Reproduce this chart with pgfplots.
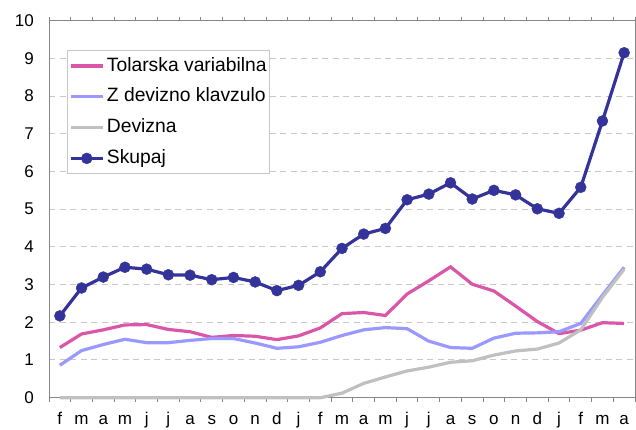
\documentclass[border=0pt]{standalone}
\usepackage{pgfplots}
\pgfplotsset{compat=1.18}
\usepackage{fontspec}
\setmainfont{Liberation Sans}
\definecolor{cpink}{RGB}{218,86,168}
\definecolor{cblue}{RGB}{153,153,255}
\definecolor{cgray}{RGB}{192,192,192}
\definecolor{cnavy}{RGB}{51,51,153}
\definecolor{caxis}{RGB}{134,134,134}
\definecolor{cgrid}{RGB}{200,200,200}
\begin{document}
\begin{tikzpicture}
\path[use as bounding box] (0,0) rectangle (636pt,430pt);
\begin{axis}[
  at={(49pt,32.3pt)}, anchor=south west,
  width=586pt, height=377pt, scale only axis,
  xmin=-0.5, xmax=26.5, ymin=0, ymax=10,
  clip=false,
  xtick={0,...,26},
  xticklabels={f,m,a,m,j,j,a,s,o,n,d,j,f,m,a,m,j,j,a,s,o,n,d,j,f,m,a},
  minor xtick={-0.5,0.5,...,26.5},
  ytick={0,...,10},
  tick align=outside,
  major tick length=0pt, minor tick length=4pt,
  minor tick style={caxis, line width=1pt},
  axis line style={caxis, line width=1pt},
  ymajorgrids,
  major grid style={cgrid, line width=1pt, dash pattern=on 6pt off 4.5pt},
  /pgf/number format/assume math mode=true,
  tick label style={font=\fontsize{17}{20}\selectfont},
  yticklabel style={anchor=east, inner sep=0pt, xshift=-15pt},
  xticklabel style={anchor=base, inner sep=0pt, yshift=-27.3pt},
  legend cell align=left,
  legend style={at={(0.0302,0.922)}, anchor=north west, draw=cgrid, line width=1pt, fill=white,
    inner xsep=2pt, inner ysep=5.4pt, row sep=10.8pt, column sep=1.5pt,
    font=\fontsize{19.3}{22}\selectfont,
    nodes={inner sep=1pt, text height=14pt, text depth=4pt}},
  legend image code/.code={\draw[mark repeat=2, mark phase=2, #1] plot coordinates {(0pt,0pt) (16pt,0pt) (32pt,0pt)};},
]
\addplot[cpink, line width=3.2pt, no markers] coordinates {
(0,1.33)(1,1.69)(2,1.80)(3,1.93)(4,1.94)(5,1.81)(6,1.75)(7,1.60)(8,1.65)(9,1.63)(10,1.54)(11,1.64)(12,1.85)
(13,2.23)(14,2.26)(15,2.18)(16,2.75)(17,3.10)(18,3.47)(19,3.01)(20,2.83)(21,2.43)(22,2.02)(23,1.70)(24,1.79)(25,1.99)(26,1.97)};
\addlegendentry{Tolarska variabilna}
\addplot[cblue, line width=3.2pt, no markers] coordinates {
(0,0.86)(1,1.25)(2,1.41)(3,1.55)(4,1.46)(5,1.46)(6,1.52)(7,1.57)(8,1.57)(9,1.45)(10,1.31)(11,1.35)(12,1.47)
(13,1.65)(14,1.80)(15,1.86)(16,1.83)(17,1.50)(18,1.33)(19,1.31)(20,1.58)(21,1.71)(22,1.72)(23,1.75)(24,1.97)(25,2.72)(26,3.46)};
\addlegendentry{Z devizno klavzulo}
\addplot[cgray, line width=3.2pt, no markers] coordinates {
(0,0)(1,0)(2,0)(3,0)(4,0)(5,0)(6,0)(7,0)(8,0)(9,0)(10,0)(11,0)(12,0)
(13,0.12)(14,0.38)(15,0.55)(16,0.71)(17,0.81)(18,0.94)(19,0.98)(20,1.13)(21,1.24)(22,1.29)(23,1.45)(24,1.80)(25,2.66)(26,3.41)};
\addlegendentry{Devizna}
\addplot[cnavy, line width=3.2pt, mark=*, mark size=5.5pt, mark options={solid, fill=cnavy, draw=cnavy, line width=0.4pt}] coordinates {
(0,2.17)(1,2.91)(2,3.20)(3,3.46)(4,3.41)(5,3.26)(6,3.25)(7,3.13)(8,3.19)(9,3.07)(10,2.84)(11,2.98)(12,3.34)
(13,3.96)(14,4.34)(15,4.49)(16,5.25)(17,5.40)(18,5.70)(19,5.27)(20,5.50)(21,5.38)(22,5.01)(23,4.89)(24,5.58)(25,7.34)(26,9.15)};
\addlegendentry{Skupaj}
\end{axis}
\end{tikzpicture}
\end{document}
